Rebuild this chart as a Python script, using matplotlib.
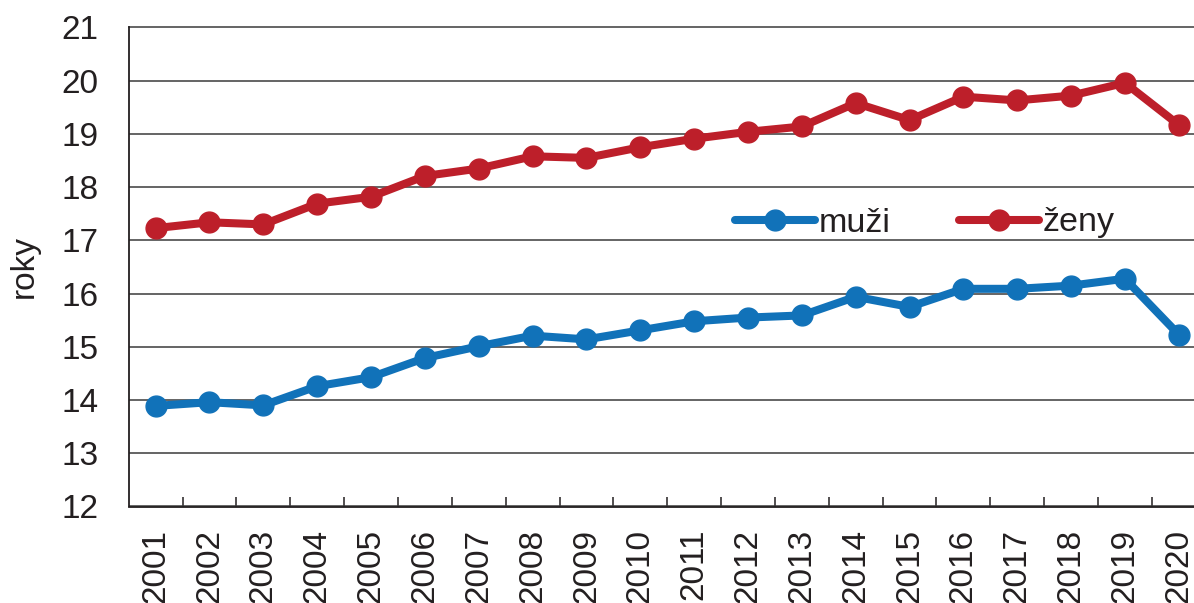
import matplotlib
matplotlib.use("Agg")
import matplotlib.pyplot as plt
from matplotlib.ticker import FixedLocator

plt.rcParams["font.family"] = ["Liberation Sans", "DejaVu Sans"]

# průměrná doba dožití ve věku 65 let
years = [str(y) for y in range(2001, 2021)]
muzi = [13.89, 13.96, 13.90, 14.26, 14.43, 14.79, 15.01, 15.21, 15.14, 15.31,
        15.48, 15.55, 15.59, 15.94, 15.75, 16.09, 16.09, 16.15, 16.28, 15.23]
zeny = [17.23, 17.34, 17.30, 17.69, 17.82, 18.21, 18.35, 18.58, 18.55, 18.75,
        18.91, 19.04, 19.14, 19.58, 19.26, 19.70, 19.63, 19.72, 19.96, 19.17]

BLUE = "#1172B9"
RED = "#BD1F2A"
TXT = "#231F20"

W, H = 1194, 603
fig = plt.figure(figsize=(W / 100, H / 100), dpi=100)
# osa přesahuje pravý okraj obrázku (poslední kategorie je oříznutá)
left, right, top, bottom = 128.7, 1205.7, 27.5, 506.5
ax = fig.add_axes([left / W, 1 - bottom / H, (right - left) / W, (bottom - top) / H])

x = range(len(years))
ax.plot(x, muzi, color=BLUE, lw=5.8, marker="o", ms=15, label="muži",
        solid_capstyle="round", zorder=3)
ax.plot(x, zeny, color=RED, lw=5.8, marker="o", ms=15, label="ženy",
        solid_capstyle="round", zorder=3)

ax.set_xlim(-0.5, len(years) - 0.5)
ax.set_ylim(12, 21)
ax.set_yticks(range(12, 22))
ax.yaxis.grid(True, color="#3a3a3a", lw=1.1)
ax.axhline(21, color="#3a3a3a", lw=1.1, clip_on=False, zorder=0.5)
ax.set_axisbelow(True)

ax.set_xticks(list(x))
ax.set_xticklabels(years, rotation=90, fontsize=24, color=TXT)
ax.xaxis.set_minor_locator(FixedLocator([i + 0.5 for i in range(len(years))]))
ax.tick_params(axis="x", which="major", length=0, pad=16)
ax.tick_params(axis="x", which="minor", direction="in", length=7.2, width=1.1, color="#231F20")
ax.tick_params(axis="y", length=0, pad=22, labelsize=24, labelcolor=TXT)

for s in ("top", "right"):
    ax.spines[s].set_visible(False)
for s in ("left", "bottom"):
    ax.spines[s].set_color("#231F20")
    ax.spines[s].set_linewidth(1.3)

ax.set_ylabel("roky", fontsize=24, color=TXT)
ax.yaxis.set_label_coords(-89 / (right - left), 0.5)

ax.legend(loc="center left", bbox_to_anchor=(735 / W, 1 - 223 / H),
          bbox_transform=fig.transFigure, ncol=2, frameon=False,
          fontsize=24.5, handlelength=2.35, handletextpad=0.12,
          columnspacing=2.0, borderpad=0, borderaxespad=0, labelcolor=TXT)

fig.savefig("out.png", dpi=100)
